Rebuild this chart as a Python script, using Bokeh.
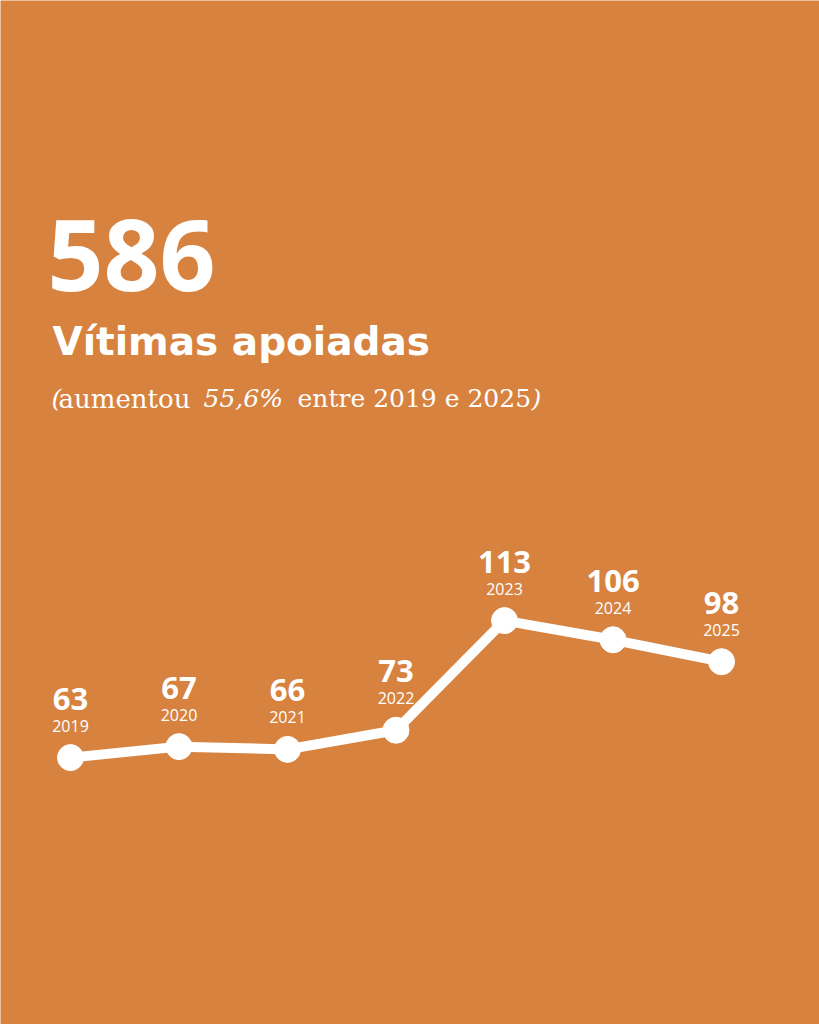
from bokeh.plotting import figure
from bokeh.models import Range1d, Label, ColumnDataSource
from bokeh.core.properties import value
from bokeh.embed import file_html
from bokeh.resources import INLINE

years = [2019, 2020, 2021, 2022, 2023, 2024, 2025]
victims = [63, 67, 66, 73, 113, 106, 98]
value_labels = [str(v) for v in victims]
year_labels = [str(y) for y in years]

total_text = "586"
title_text = "Vítimas apoiadas"

BG = "#D7823F"
W, H = 819, 1024

p = figure(width=W, height=H, output_backend="svg", toolbar_location=None,
           x_range=Range1d(2018.355, 2025.903), y_range=Range1d(-34.4, 339.3),
           min_border=0, x_axis_location=None, y_axis_location=None)
p.grid.visible = False
p.outline_line_color = None
p.background_fill_color = BG
p.border_fill_color = BG

src = ColumnDataSource(dict(x=years, y=victims, v=value_labels, yr=year_labels))

p.line("x", "y", source=src, line_color="white", line_width=10, line_join="round", line_cap="round")
p.scatter("x", "y", source=src, size=26, fill_color="white", line_color="white")

p.text("x", "y", text="v", source=src, y_offset=-59, text_align="center",
       text_baseline="alphabetic", text_color="white", text_font=value("Open Sans"),
       text_font_style="bold", text_font_size="31px")
p.text("x", "y", text="yr", source=src, y_offset=-32, text_align="center",
       text_baseline="alphabetic", text_color="white", text_font=value("Open Sans"),
       text_font_size="16px")

def lab(txt, x, y_top, size, font, style="normal"):
    p.add_layout(Label(x=x, y=H - y_top, x_units="screen", y_units="screen", text=txt,
                       text_color="white", text_font=font, text_font_size=size,
                       text_font_style=style, text_baseline="alphabetic", text_align="left"))

lab(total_text, 47, 255, "98px", "Open Sans", "bold")
lab(title_text, 52, 341, "39px", "DejaVu Sans", "bold")

# subtitle with mixed styles
lab("(", 51, 398, "25px", "DejaVu Serif", "italic")
lab("aumentou", 58, 398, "26px", "DejaVu Serif")
lab("55,6%", 203, 398, "25px", "DejaVu Serif", "italic")
lab("entre 2019 e 2025", 297, 398, "25px", "DejaVu Serif")
lab(")", 531, 398, "25px", "DejaVu Serif", "italic")

html = file_html(p, INLINE)
open("out.html", "w").write(html)
